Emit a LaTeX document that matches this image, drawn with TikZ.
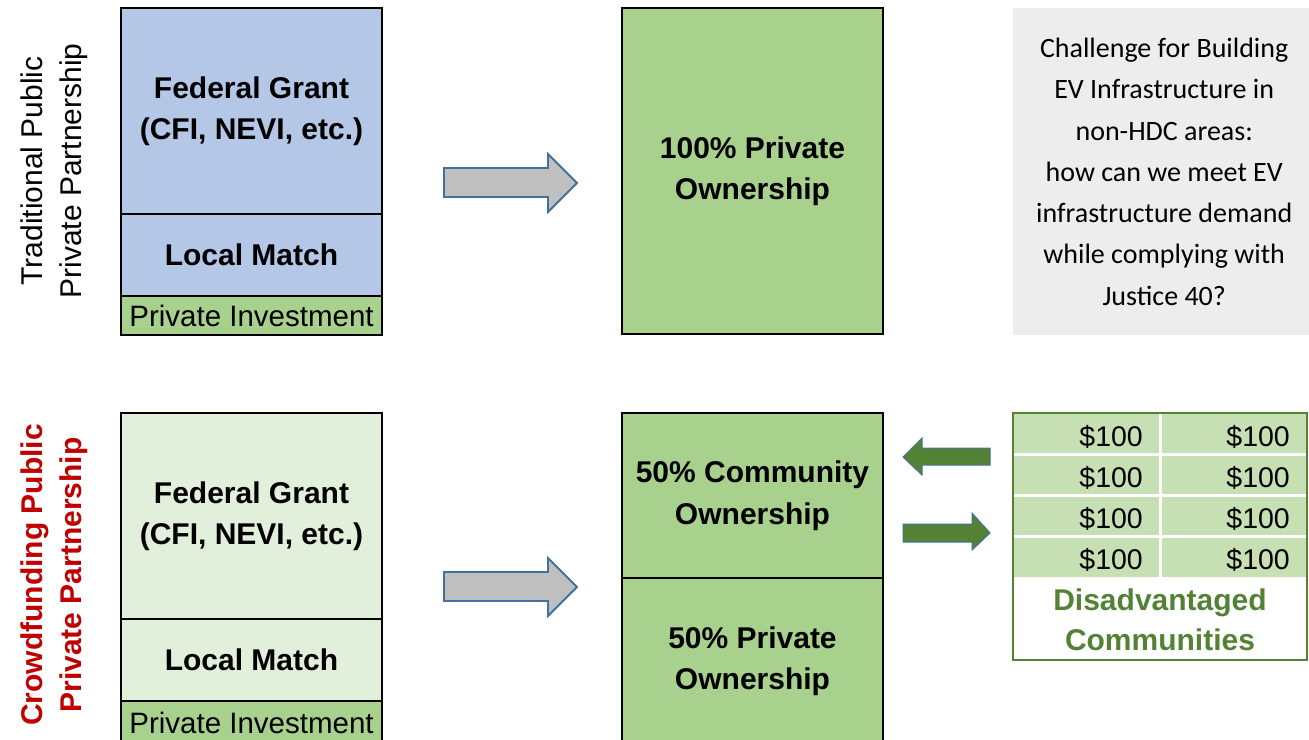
\documentclass[tikz,border=0pt]{standalone}
\usepackage{fontspec}
\setmainfont{Liberation Sans}
\newfontfamily\calibri{Carlito}
\definecolor{fgblue}{HTML}{B4C7E7}
\definecolor{midgreen}{HTML}{A9D18E}
\definecolor{lightgreen}{HTML}{E2EFDA}
\definecolor{cellgreen}{HTML}{C6E0B4}
\definecolor{darkgreen}{HTML}{548235}
\definecolor{boxgray}{HTML}{EDEDED}
\definecolor{arrowgray}{HTML}{BFBFBF}
\definecolor{arrowblue}{HTML}{41719C}
\definecolor{labelred}{HTML}{C00000}
\tikzset{
  blk/.style={draw=black, line width=2.5pt, rectangle, anchor=north west, inner sep=0pt, outer sep=0pt,
    minimum width=261pt, align=center, font=\fontsize{30}{41.5}\selectfont\bfseries},
  inv/.style={blk, font=\fontsize{29.5}{34}\selectfont, fill=midgreen},
  sidelabel/.style={rotate=90, align=center, font=\fontsize{30}{39}\selectfont},
  grayarrow/.style={fill=arrowgray, draw=arrowblue, line width=1.8pt, line join=miter},
  greenarrow/.style={fill=darkgreen, draw=arrowblue, line width=1pt, line join=miter},
  money/.style={anchor=east, inner sep=0pt, font=\fontsize{28.5}{34}\selectfont},
}
\begin{document}
\begin{tikzpicture}[x=1pt, y=-1pt]
\useasboundingbox (0,0) rectangle (1309,739);

% ---------- top row ----------
\node[sidelabel] (tlab) at (54,171) {Traditional Public\\Private Partnership};

\node[blk, fill=fgblue, minimum height=206pt] (tfed) at (121,8) {Federal Grant\\(CFI, NEVI, etc.)};
\node[blk, fill=fgblue, minimum height=82pt] (tloc) at (121,214) {Local Match};
\node[inv, minimum height=39pt] (tinv) at (121,296) {Private Investment};

\draw[grayarrow] (444,168) -- (548,168) -- (548,154) -- (577,183) -- (548,212) -- (548,197) -- (444,197) -- cycle;

\node[blk, fill=midgreen, minimum height=326pt] (tpriv) at (622,8) {100\% Private\\Ownership};

\node[fill=boxgray, anchor=north west, inner sep=0pt, minimum width=302pt, minimum height=327pt,
      align=center, font=\calibri\fontsize{28}{41.3}\selectfont] (chal) at (1013,8)
  {Challenge for Building\\EV Infrastructure in\\non-HDC areas:\\how can we meet EV\\infrastructure demand\\while complying with\\Justice 40?};

% ---------- bottom row ----------
\node[sidelabel, font=\fontsize{30}{39}\selectfont\bfseries, text=labelred] (blab) at (54,575) {Crowdfunding Public\\Private Partnership};

\node[blk, fill=lightgreen, minimum height=206pt] (bfed) at (121,413) {Federal Grant\\(CFI, NEVI, etc.)};
\node[blk, fill=lightgreen, minimum height=82pt] (bloc) at (121,619) {Local Match};
\node[inv, minimum height=44pt] (binv) at (121,701) {Private Investment};

\draw[grayarrow] (444,572) -- (548,572) -- (548,558) -- (577,587) -- (548,616) -- (548,601) -- (444,601) -- cycle;

\node[blk, fill=midgreen, minimum height=165pt] (bcom) at (622,413) {50\% Community\\Ownership};
\node[blk, fill=midgreen, minimum height=166pt] (bpriv) at (622,578) {50\% Private\\Ownership};

% green arrows
\draw[greenarrow] (990,448) -- (922,448) -- (922,438) -- (903,457) -- (922,475) -- (922,465) -- (990,465) -- cycle;
\draw[greenarrow] (903,524) -- (972,524) -- (972,513) -- (990,533) -- (972,550) -- (972,542) -- (903,542) -- cycle;

% table of contributions
\fill[cellgreen] (1013,413) rectangle (1307,577);
\draw[white, line width=3pt] (1013,454) -- (1307,454);
\draw[white, line width=3pt] (1013,495.5) -- (1307,495.5);
\draw[white, line width=3pt] (1013,536.5) -- (1307,536.5);
\draw[white, line width=3pt] (1160,413) -- (1160,577);
\node[draw=darkgreen, line width=2.5pt, anchor=north west, inner sep=0pt, outer sep=0pt,
      minimum width=294pt, minimum height=247pt] (tbl) at (1013,413) {};

\node[money] (m11) at (1143,437) {\$100};
\node[money] (m12) at (1290,437) {\$100};
\node[money] (m21) at (1143,478) {\$100};
\node[money] (m22) at (1290,478) {\$100};
\node[money] (m31) at (1143,519) {\$100};
\node[money] (m32) at (1290,519) {\$100};
\node[money] (m41) at (1143,560) {\$100};
\node[money] (m42) at (1290,560) {\$100};

\node[align=center, text=darkgreen, font=\fontsize{30}{40}\selectfont\bfseries] (dis) at (1160,620)
  {Disadvantaged\\Communities};
\end{tikzpicture}
\end{document}
